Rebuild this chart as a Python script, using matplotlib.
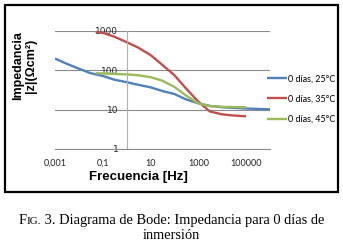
# Bode diagram: impedance for 0 days of immersion

import matplotlib
matplotlib.use('Agg')
import matplotlib.pyplot as plt
from matplotlib.patches import Rectangle

# frequency [Hz] and |z| [Ohm cm2]
f_25 = [0.001, 0.003, 0.01, 0.03, 0.1, 0.3, 1, 3, 10, 30, 100, 300, 1000, 3000, 10000, 100000, 1000000]
z_25 = [200, 148, 110, 85, 72, 58, 50, 43, 37, 30, 25, 18.3, 14.5, 12.5, 11.5, 10.7, 10.2]

f_35 = [0.05, 0.1, 0.3, 1, 3, 10, 30, 100, 300, 1000, 3000, 10000, 30000, 100000]
z_35 = [950, 900, 720, 520, 380, 245, 140, 75, 35, 16, 9, 7.6, 7.1, 6.8]

f_45 = [0.05, 0.1, 1, 3, 10, 30, 100, 300, 1000, 3000, 10000, 100000]
z_45 = [85, 83, 79, 75, 67, 55, 38, 23, 14.5, 12.3, 11.8, 11.5]

labels = ['0 días, 25°C', '0 días, 35°C', '0 días, 45°C']
colors = ['#4F81BD', '#C0504D', '#9BBB59']
xticks = [0.001, 0.1, 10, 1000, 100000]
xticklabels = ['0,001', '0,1', '10', '1000', '100000']
yticks = [1, 10, 100, 1000]
yticklabels = ['1', '10', '100', '1000']

W, H = 343, 244
fig = plt.figure(figsize=(W / 100, H / 100), dpi=100)

# outer frame
fig.patches.append(Rectangle((5 / W, 1 - 192 / H), 333 / W, 187 / H, transform=fig.transFigure,
                             fill=False, lw=1.6, ec='black'))

ax = fig.add_axes([55 / W, 1 - 149 / H, 215 / W, 118 / H])
ax.set_xscale('log')
ax.set_yscale('log')
ax.set_xlim(1e-3, 1e6)
ax.set_ylim(1, 1000)

for f, z, c, lab in zip([f_25, f_35, f_45], [z_25, z_35, z_45], colors, labels):
    ax.plot(f, z, color=c, lw=1.7, label=lab, solid_capstyle='butt')

ax.set_yticks(yticks)
ax.set_yticklabels(yticklabels)
ax.set_xticks(xticks)
ax.set_xticklabels(xticklabels)
ax.minorticks_off()
ax.tick_params(length=0, labelsize=6.5, labelcolor='#222222')
ax.tick_params(axis='x', pad=7)
ax.tick_params(axis='y', pad=6)
for lab in ax.get_xticklabels() + ax.get_yticklabels():
    lab.set_family('Lato')

ax.grid(axis='y', color='#8c8c8c', lw=0.8)
ax.set_axisbelow(True)
for s in ['top', 'right']:
    ax.spines[s].set_visible(False)
ax.spines['left'].set_position(('data', 1))
ax.spines['left'].set_color('#b0b0b0')
ax.spines['left'].set_linewidth(0.8)
ax.spines['bottom'].set_color('#8c8c8c')
ax.spines['bottom'].set_linewidth(0.8)

ax.set_xlabel('Frecuencia [Hz]', family='Liberation Sans', weight='bold', size=9.5, va='center')
ax.xaxis.set_label_coords(83 / 215, -28 / 118)
fig.text(25 / W, 1 - 66 / H, 'Impedancia\n|z|(Ωcm²)', family='Liberation Sans', weight='bold', size=9,
         rotation=90, ha='center', va='center', linespacing=1.1)

fig.legend(loc='center left', bbox_to_anchor=(262 / W, 1 - 99 / H), frameon=False,
           prop={'family': 'Lato', 'size': 6.5}, handlelength=2.3, handletextpad=0.1,
           labelspacing=1.25, borderpad=0)

# caption with small caps "FIG."
fig.canvas.draw()
r = fig.canvas.get_renderer()
y1 = 1 - 224 / H
parts = [('F', 10.4), ('IG.', 8.0), (' 3. Diagrama de Bode: Impedancia para 0 días de', 10.4)]
texts = []
x = 0
for s, sz in parts:
    t = fig.text(x, y1, s, family='Liberation Serif', size=sz, va='baseline', ha='left')
    texts.append(t)
    x += t.get_window_extent(r).width / W
x0 = 0.5 - x / 2
for t in texts:
    t.set_x(t.get_position()[0] + x0)
fig.text(0.5, 1 - 239 / H, 'inmersión', family='Liberation Serif', size=10.4, va='baseline', ha='center')

plt.savefig('out.png', dpi=100)
